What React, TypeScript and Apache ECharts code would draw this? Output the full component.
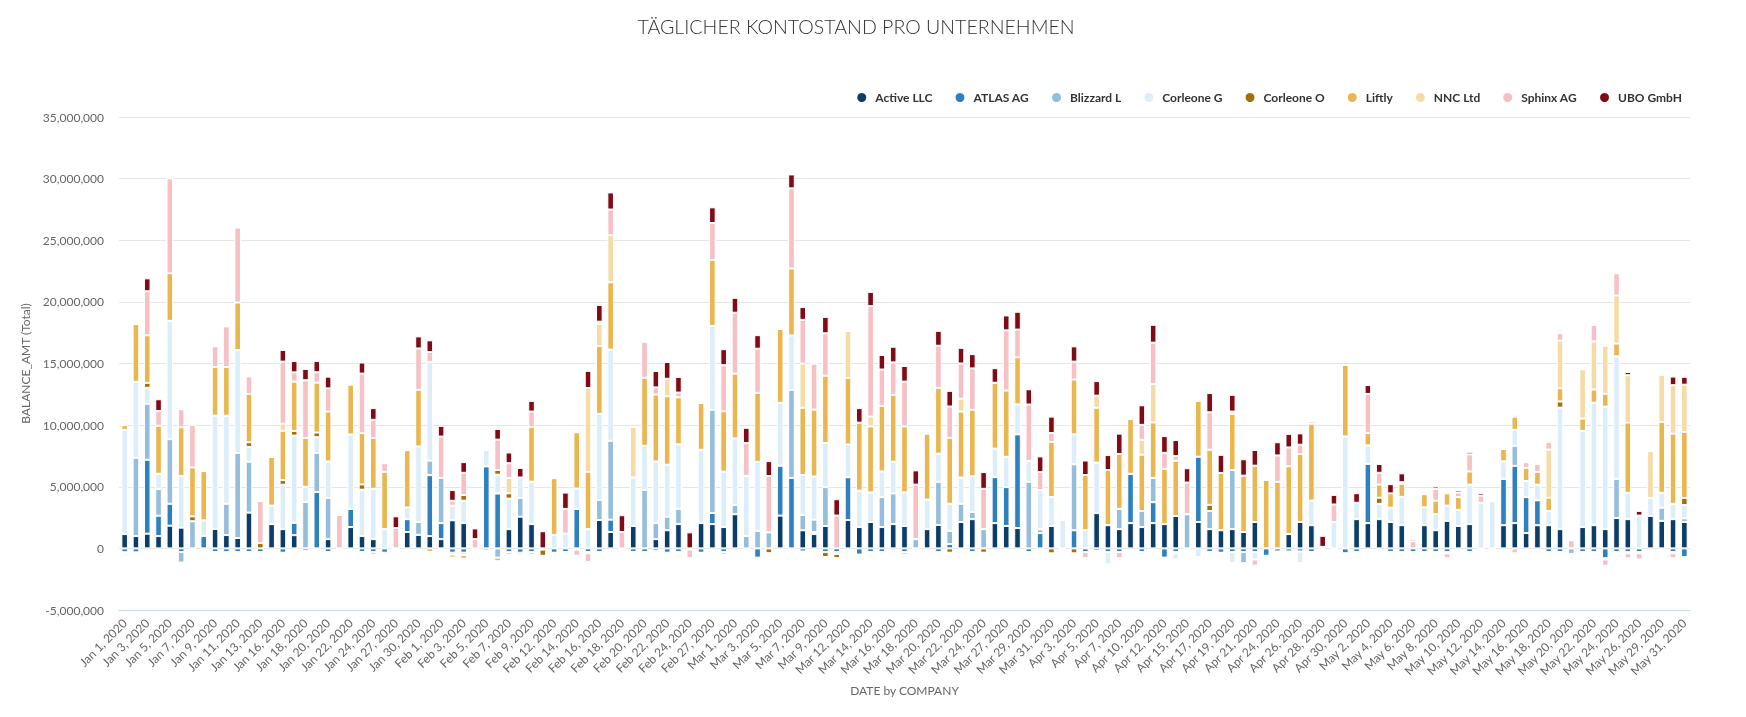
import React, { useEffect, useRef } from "react";
import * as echarts from "echarts";

const dates = [
  "Jan 1, 2020", "Jan 2, 2020", "Jan 3, 2020", "Jan 4, 2020", "Jan 5, 2020", "Jan 6, 2020", "Jan 7, 2020", "Jan 8, 2020", "Jan 9, 2020", "Jan 10, 2020",
  "Jan 11, 2020", "Jan 12, 2020", "Jan 13, 2020", "Jan 14, 2020", "Jan 16, 2020", "Jan 17, 2020", "Jan 18, 2020", "Jan 19, 2020", "Jan 20, 2020", "Jan 21, 2020",
  "Jan 22, 2020", "Jan 23, 2020", "Jan 24, 2020", "Jan 25, 2020", "Jan 27, 2020", "Jan 28, 2020", "Jan 30, 2020", "Jan 31, 2020", "Feb 1, 2020", "Feb 2, 2020",
  "Feb 3, 2020", "Feb 4, 2020", "Feb 5, 2020", "Feb 6, 2020", "Feb 7, 2020", "Feb 8, 2020", "Feb 9, 2020", "Feb 10, 2020", "Feb 12, 2020", "Feb 13, 2020",
  "Feb 14, 2020", "Feb 15, 2020", "Feb 16, 2020", "Feb 17, 2020", "Feb 18, 2020", "Feb 19, 2020", "Feb 20, 2020", "Feb 21, 2020", "Feb 22, 2020", "Feb 23, 2020",
  "Feb 24, 2020", "Feb 25, 2020", "Feb 27, 2020", "Feb 28, 2020", "Mar 1, 2020", "Mar 2, 2020", "Mar 3, 2020", "Mar 4, 2020", "Mar 5, 2020", "Mar 6, 2020",
  "Mar 7, 2020", "Mar 8, 2020", "Mar 9, 2020", "Mar 10, 2020", "Mar 12, 2020", "Mar 13, 2020", "Mar 14, 2020", "Mar 15, 2020", "Mar 16, 2020", "Mar 17, 2020",
  "Mar 18, 2020", "Mar 19, 2020", "Mar 20, 2020", "Mar 21, 2020", "Mar 22, 2020", "Mar 23, 2020", "Mar 24, 2020", "Mar 25, 2020", "Mar 27, 2020", "Mar 28, 2020",
  "Mar 29, 2020", "Mar 30, 2020", "Mar 31, 2020", "Apr 1, 2020", "Apr 3, 2020", "Apr 4, 2020", "Apr 5, 2020", "Apr 6, 2020", "Apr 7, 2020", "Apr 8, 2020",
  "Apr 10, 2020", "Apr 11, 2020", "Apr 12, 2020", "Apr 13, 2020", "Apr 15, 2020", "Apr 16, 2020", "Apr 17, 2020", "Apr 18, 2020", "Apr 19, 2020", "Apr 20, 2020",
  "Apr 21, 2020", "Apr 22, 2020", "Apr 24, 2020", "Apr 25, 2020", "Apr 26, 2020", "Apr 27, 2020", "Apr 28, 2020", "Apr 29, 2020", "Apr 30, 2020", "May 1, 2020",
  "May 2, 2020", "May 3, 2020", "May 4, 2020", "May 5, 2020", "May 6, 2020", "May 7, 2020", "May 8, 2020", "May 9, 2020", "May 10, 2020", "May 11, 2020",
  "May 12, 2020", "May 13, 2020", "May 14, 2020", "May 15, 2020", "May 16, 2020", "May 17, 2020", "May 18, 2020", "May 19, 2020", "May 20, 2020", "May 21, 2020",
  "May 22, 2020", "May 23, 2020", "May 24, 2020", "May 25, 2020", "May 26, 2020", "May 27, 2020", "May 29, 2020", "May 30, 2020", "May 31, 2020",
];

const companies = ["Active LLC", "ATLAS AG", "Blizzard L", "Corleone G", "Corleone O", "Liftly", "NNC Ltd", "Sphinx AG", "UBO GmbH"];
const companyColors = ["#0b3d68", "#2e80bf", "#95bddc", "#ddeefb", "#a36f07", "#e9b64f", "#f5dca6", "#f6c0c5", "#810b14"];

const activeLLC = [
  1160000, 1000000, 1190000, 1000000, 1840000, 1680000, 0, 0, 1570000, 1080000,
  840000, 2900000, 0, 1970000, 1560000, 1070000, 0, 0, 750000, 0,
  1730000, 1000000, 750000, 0, 0, 1330000, 1100000, 1000000, 750000, 2280000,
  2050000, 0, 0, 0, 1560000, 2570000, 1970000, 0, 0, 0,
  0, 0, 2300000, 1330000, 0, 1820000, 0, 750000, 1470000, 1970000,
  0, 2050000, 1970000, 1730000, 2770000, 0, 0, 0, 2660000, 0,
  1470000, 1160000, 1820000, 0, 2300000, 1730000, 2140000, 1730000, 1970000, 1820000,
  0, 1560000, 1900000, 0, 2140000, 2370000, 0, 2050000, 1820000, 1650000,
  0, 0, 1820000, 0, 0, 0, 2860000, 1880000, 1560000, 2050000,
  1730000, 2050000, 1970000, 2630000, 0, 2140000, 1560000, 1470000, 1560000, 1330000,
  2140000, 0, 0, 1160000, 2140000, 1880000, 0, 0, 0, 2370000,
  2050000, 2370000, 2140000, 1880000, 0, 1880000, 1470000, 2230000, 1820000, 1970000,
  0, 0, 1880000, 2050000, 1240000, 1880000, 1880000, 1560000, 0, 1730000,
  1880000, 1560000, 2460000, 2370000, 0, 2630000, 2230000, 2370000, 2140000,
];

const atlasAG = [
  -320000, -320000, 6000000, 1650000, 1780000, -300000, 0, 1000000, -300000, -300000,
  -300000, -300000, -300000, 0, -350000, 1000000, -200000, 4570000, -300000, 0,
  1470000, -300000, -300000, -350000, 0, 1040000, 0, 4940000, 1300000, -350000,
  -350000, 0, 6650000, 4450000, -300000, -350000, -300000, 0, -350000, -300000,
  3200000, -300000, -300000, 1000000, 0, -300000, -300000, -200000, -350000, -300000,
  0, -350000, 900000, -300000, -150000, 0, -750000, 0, 4050000, 5720000,
  -250000, 170000, -300000, -300000, 3470000, -500000, -300000, -300000, -150000, -300000,
  0, -150000, -300000, 350000, -100000, -300000, 0, 3730000, 3150000, 7600000,
  -300000, 1240000, 0, 0, 1470000, -300000, -200000, -300000, -300000, 4000000,
  -300000, 1700000, -750000, -300000, 0, 5300000, -300000, -350000, -300000, -300000,
  -300000, -600000, -250000, -250000, -250000, -300000, 0, 0, -400000, -300000,
  4800000, -100000, -300000, -300000, -300000, -300000, -300000, -300000, -100000, -300000,
  0, 0, 3760000, 4650000, 2920000, 2020000, -300000, -300000, 0, -300000,
  -300000, -800000, -300000, -300000, -300000, -150000, 0, -300000, -700000,
];

const blizzardL = [
  0, 6350000, 4540000, 2160000, 5240000, -850000, 2200000, 0, -100000, 2540000,
  6900000, 4130000, -100000, 0, -100000, -100000, 3760000, 3180000, 3350000, 0,
  0, 0, -200000, -100000, -100000, 0, 1040000, 1180000, 3670000, -150000,
  -200000, -100000, 0, -750000, -200000, 1530000, -200000, -100000, 0, -100000,
  -100000, -100000, 1620000, 6400000, 0, 0, 4740000, 1300000, 1100000, 1240000,
  -100000, 0, 8380000, -200000, 750000, 1000000, 1420000, 1300000, 0, 7140000,
  1240000, 1000000, 3150000, -150000, 0, 0, -100000, 2430000, 2490000, -200000,
  750000, 0, 3500000, 1070000, 1470000, 580000, 1560000, 0, 0, 0,
  5400000, 300000, 0, 0, 5350000, 0, 0, 0, 1650000, 0,
  1300000, 1970000, 0, -100000, 2770000, 0, 1470000, 0, 4800000, -900000,
  0, 0, -50000, -50000, 0, -100000, 0, 0, 0, 0,
  0, 0, -100000, -100000, -100000, 0, -100000, -100000, 0, -100000,
  0, 0, 0, 1620000, 0, 0, -100000, 0, -450000, 0,
  -100000, -100000, 3180000, -100000, -100000, 0, 1070000, -100000, 300000,
];

const corleoneG = [
  8460000, 6160000, 1300000, 1240000, 9600000, 4200000, 0, 1270000, 9200000, 7140000,
  8350000, 1200000, 0, 1500000, 3600000, 7080000, 1240000, 1270000, 2950000, 0,
  6040000, 3760000, 4080000, 1560000, 0, 950000, 6130000, 8000000, -100000, 1180000,
  1820000, 0, 1330000, 1530000, 2480000, 1650000, 3440000, 0, 1100000, 1200000,
  1650000, 1560000, 7000000, 7400000, 0, 3930000, 3580000, 5000000, 4220000, 5230000,
  0, 5950000, 6800000, 4500000, 5400000, 4880000, 5600000, 0, 5100000, 4420000,
  3240000, 3500000, 3580000, 0, 2660000, 2950000, 2400000, 2080000, 2570000, 2720000,
  0, 2400000, 2280000, 2200000, 2140000, 2900000, 0, 2310000, 2460000, 2430000,
  1700000, 3180000, 2340000, 2300000, 2430000, 1470000, 4100000, -1000000, 0, 0,
  -200000, 0, -100000, -500000, 0, -700000, -100000, 0, -900000, -100000,
  -600000, 0, 0, 0, -950000, 2000000, 0, 2140000, 9080000, 1330000,
  1500000, 1240000, 1160000, 2300000, 0, 1450000, 1300000, 1240000, 1300000, 3200000,
  3700000, 3840000, 1420000, 1300000, 1300000, 1270000, 1160000, 9860000, 0, 7800000,
  9940000, 9940000, 9940000, 2140000, 2660000, 1470000, 1210000, 1240000, 1070000,
];

const corleoneO = [
  0, 0, 400000, 0, 0, 0, 400000, 0, 0, 0,
  0, 380000, 430000, 0, 380000, 380000, 0, 380000, 0, 0,
  0, 430000, 0, 0, 0, 0, 0, 0, 0, 0,
  460000, 0, 0, 380000, 430000, 0, 0, -500000, 0, 0,
  0, 0, 0, 0, 0, 0, 0, 0, 0, 0,
  0, 0, 0, 0, 0, 0, 0, -400000, 0, 0,
  0, 0, -400000, -350000, 0, 0, 0, 0, 0, 0,
  0, 0, 0, -350000, 0, 0, -350000, 0, 0, 0,
  0, 0, -400000, 0, -400000, 0, 0, 0, 0, 0,
  0, 0, 0, 0, 0, 0, 500000, 0, 0, 0,
  0, 0, 0, 0, 0, 0, 0, 0, 0, 0,
  0, 500000, 0, 0, 0, 0, 0, 0, 0, 0,
  0, 0, 0, 0, 0, 0, 0, 500000, 0, 0,
  0, 0, 0, 0, 0, 0, 0, 0, 580000,
];

const liftly = [
  380000, 4680000, 3860000, 3900000, 3860000, 3950000, 3970000, 4000000, 3950000, 3950000,
  3860000, 3920000, 0, 3960000, 4000000, 4000000, 3960000, 4050000, 4050000, 0,
  4050000, 4160000, 4130000, 4650000, 0, 4650000, 4600000, -300000, 0, -250000,
  -300000, 0, -200000, -300000, -150000, -200000, 4450000, 0, 4600000, 0,
  4570000, 4650000, 5500000, 5460000, 0, 0, 5520000, 5430000, 5550000, 3820000,
  0, 3790000, 5350000, 4900000, 5260000, 0, 5600000, 0, 6000000, 5430000,
  5460000, 5430000, 5460000, 0, 5400000, 5520000, 5350000, 5320000, 5430000, 5350000,
  0, 5350000, 5350000, 5350000, 5350000, 5400000, 0, 5350000, 5380000, 3820000,
  0, 0, 4480000, 0, 4450000, 4480000, 4450000, 4480000, 4450000, 4450000,
  4570000, 4500000, 4480000, 4480000, 0, 4540000, 4480000, 4650000, 4570000, 4570000,
  4570000, 5550000, 5400000, 5500000, 5520000, 6240000, 0, 0, 5800000, 0,
  1000000, 1070000, 1160000, 1070000, 0, 1070000, 1100000, 1000000, 1040000, 1070000,
  0, 0, 1000000, 1070000, 1070000, 1040000, 1070000, 1070000, 0, 1000000,
  1070000, 1040000, 1040000, 5700000, 0, 0, 5750000, 5700000, 5350000,
];

const nncLtd = [
  0, 0, 0, 0, 0, 0, 0, 0, 0, 0,
  0, 0, 0, 0, 580000, 0, 0, 0, 0, 0,
  0, 0, 0, 0, 0, 0, 0, 0, 0, 0,
  0, 0, 0, 0, 1240000, 0, 0, 0, 0, 0,
  0, 6800000, 1800000, 3820000, 0, 4100000, 0, 0, 1420000, 0,
  0, 0, 0, 0, 0, 0, 0, 0, 0, 0,
  3580000, 0, 0, 0, 3820000, 0, 800000, 0, 0, 0,
  0, 0, 0, 0, 1040000, 0, 0, 0, 0, 0,
  0, 0, 0, 0, 0, 0, 980000, 0, 0, 0,
  1210000, 3120000, 0, 0, 0, 0, 0, 0, 0, 0,
  0, 0, 0, 0, 0, 0, 0, 0, 0, 0,
  0, 0, 0, 0, 0, 0, 0, 0, 0, 0,
  0, 0, 0, 0, 0, 0, 3900000, 3870000, 0, 4000000,
  3900000, 3900000, 3900000, 3840000, 0, 3820000, 3820000, 3930000, 3840000,
];

const sphinxAG = [
  0, 0, 3570000, 1200000, 7700000, 1460000, 3460000, 0, 1680000, 3300000,
  6080000, 1430000, 3400000, 0, 5030000, 750000, 4680000, 840000, 1880000, 2720000,
  0, 4830000, 1470000, 700000, 1650000, 0, 3350000, 810000, 3350000, 400000,
  1800000, 750000, 0, 2460000, 1200000, 0, 1240000, 0, 0, 2000000,
  -500000, -700000, 170000, 2080000, 1330000, 0, 2920000, 580000, 0, 380000,
  -700000, 0, 3000000, 3730000, 4940000, 2660000, 3580000, 4570000, 0, 6500000,
  3550000, 3730000, 3440000, 2660000, 0, 0, 8960000, 2950000, 2630000, 3640000,
  4420000, 0, 3410000, 2540000, 2860000, 3350000, 3270000, 0, 4880000, 2250000,
  4570000, 1470000, 720000, 0, 1450000, -500000, 0, -100000, -500000, 0,
  1210000, 3350000, 1300000, 380000, 2570000, 0, 3030000, 0, 170000, 0,
  -500000, 0, 2140000, 1530000, 750000, 200000, 120000, 1420000, 0, 0,
  3180000, 950000, 0, 120000, 580000, 0, 950000, -400000, 380000, 1390000,
  580000, 0, 0, -400000, 460000, 640000, 640000, 600000, 660000, 0,
  1330000, -500000, 1800000, -400000, -500000, 0, -100000, -400000, -50000,
];

const uboGmbH = [
  0, 0, 1050000, 950000, 0, 0, 0, 0, 0, 0,
  0, 0, 0, 0, 950000, 920000, 920000, 920000, 950000, 0,
  0, 900000, 950000, 0, 950000, 0, 980000, 950000, 870000, 870000,
  870000, 870000, 0, 870000, 870000, 780000, 870000, 1390000, 0, 1330000,
  0, 1390000, 1360000, 1390000, 1360000, 0, 0, 1330000, 1360000, 1270000,
  1300000, 0, 1270000, 1300000, 1210000, 1240000, 1100000, 1210000, 0, 1130000,
  1040000, 0, 1330000, 1330000, 0, 1180000, 1160000, 1180000, 1270000, 1270000,
  1160000, 0, 1210000, 1270000, 1270000, 1160000, 1360000, 1180000, 1210000, 1450000,
  1240000, 1270000, 1330000, 0, 1240000, 1180000, 1180000, 1210000, 1650000, 0,
  1590000, 1450000, 1360000, 1300000, 1160000, 0, 1560000, 1470000, 1360000, 1330000,
  1270000, 0, 1070000, 1100000, 920000, 0, 900000, 780000, 0, 780000,
  720000, 720000, 750000, 720000, 150000, 0, 200000, 0, 200000, 200000,
  200000, 0, 0, 100000, 100000, 100000, 100000, 100000, 0, 0,
  100000, 0, 0, 260000, 380000, 0, 100000, 700000, 640000,
];

const yTicks = { min: -5000000, max: 35000000, interval: 5000000 };

export default function App() {
  const ref = useRef<HTMLDivElement>(null);

  useEffect(() => {
    if (!ref.current) return;
    document.body.style.margin = "0";
    const chart = echarts.init(ref.current, null, { renderer: "svg" });
    const seriesValues = [activeLLC, atlasAG, blizzardL, corleoneG, corleoneO, liftly, nncLtd, sphinxAG, uboGmbH];
    const font = "Lato, 'Open Sans', sans-serif";
    chart.setOption({
      animation: false,
      color: companyColors,
      textStyle: { fontFamily: font },
      title: {
        text: "TÄGLICHER KONTOSTAND PRO UNTERNEHMEN",
        left: 851,
        textAlign: "center",
        top: 11,
        textStyle: { fontFamily: font, fontSize: 19.6, fontWeight: 300, color: "#333333" },
      },
      legend: {
        data: companies,
        right: 59,
        top: 86,
        icon: "circle",
        itemWidth: 11,
        itemHeight: 11,
        itemGap: 21,
        textStyle: { fontFamily: font, fontSize: 12, fontWeight: "bold", color: "#333333", padding: [0, 0, 0, 3] },
      },
      grid: { left: 119, right: 56, top: 117, bottom: 107, containLabel: false },
      xAxis: {
        type: "category",
        data: dates,
        name: "DATE by COMPANY",
        nameLocation: "middle",
        nameGap: 67,
        nameTextStyle: { fontFamily: font, fontSize: 12, color: "#666666" },
        axisLine: { onZero: false, lineStyle: { color: "#ccd6eb" } },
        axisTick: { alignWithLabel: true, interval: 1, length: 8, lineStyle: { color: "#ccd6eb" } },
        axisLabel: { interval: 1, rotate: 45, fontFamily: font, fontSize: 12, color: "#666666", margin: 11 },
      },
      yAxis: {
        type: "value",
        min: yTicks.min,
        max: yTicks.max,
        interval: yTicks.interval,
        name: "BALANCE_AMT (Total)",
        nameLocation: "middle",
        nameGap: 78,
        nameTextStyle: { fontFamily: font, fontSize: 12, color: "#666666" },
        axisLine: { show: false },
        axisTick: { show: false },
        splitLine: { lineStyle: { color: "#e6e6e6" } },
        axisLabel: {
          fontFamily: font,
          fontSize: 12,
          color: "#666666",
          margin: 15,
          formatter: (v: number) => v.toLocaleString("en-US"),
        },
      },
      series: companies.map((name, i) => ({
        name,
        type: "bar",
        stack: "total",
        barWidth: 6.6,
        data: seriesValues[i],
        itemStyle: { color: companyColors[i], borderColor: "#ffffff", borderWidth: 1 },
        emphasis: { disabled: true },
      })),
    });
    return () => chart.dispose();
  }, []);

  return <div ref={ref} style={{ position: "fixed", left: 0, top: 0, width: 1746, height: 717 }} />;
}
